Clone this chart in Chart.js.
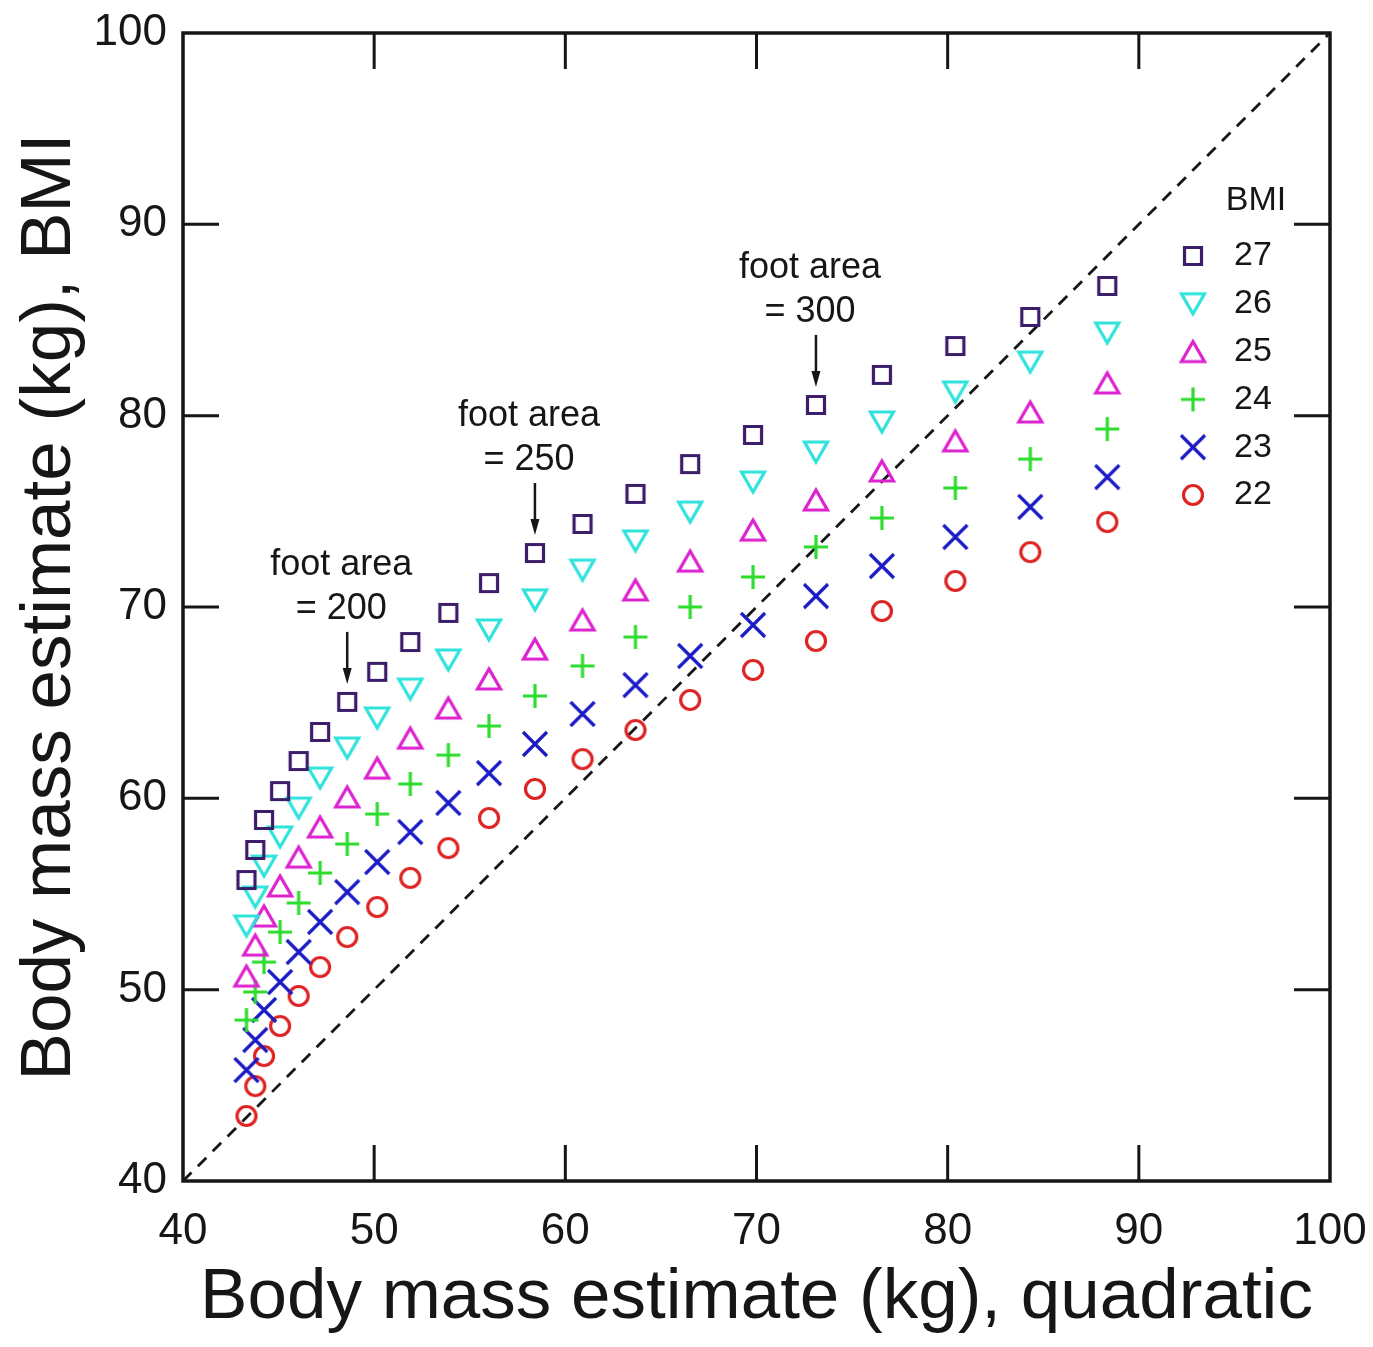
<!DOCTYPE html>
<html>
<head>
<meta charset="utf-8">
<title>Body mass estimates</title>
<script src="https://cdn.jsdelivr.net/npm/chart.js@4.4.1/dist/chart.umd.min.js"></script>
<style>
  html, body { margin: 0; padding: 0; background: #fff; }
  canvas { display: block; }
</style>
</head>
<body>
<canvas id="massChart" width="1373" height="1347"></canvas>
<script>
// Quadratic estimate (x) for each foot-area step, 140..340 in steps of 10
const footAreas = [140, 150, 160, 170, 180, 190, 200, 210, 220, 230, 240,
                   250, 260, 270, 280, 290, 300, 310, 320, 330, 340];
const quadMass = [43.32, 43.78, 44.24, 45.08, 46.05, 47.17, 48.59, 50.16, 51.89, 53.88, 56.01,
                  58.41, 60.90, 63.67, 66.53, 69.82, 73.11, 76.56, 80.40, 84.32, 88.35];

// BMI-based estimates (y), one list per BMI value
const bmi27 = [55.73, 57.30, 58.87, 60.38, 61.95, 63.47, 65.04, 66.61, 68.17, 69.69, 71.25,
               72.82, 74.34, 75.91, 77.47, 78.99, 80.56, 82.13, 83.64, 85.16, 86.78];
const bmi26 = [53.33, 54.84, 56.46, 57.98, 59.49, 61.06, 62.63, 64.20, 65.71, 67.23, 68.80,
               70.37, 71.93, 73.45, 74.96, 76.53, 78.10, 79.67, 81.24, 82.80, 84.32];
const bmi25 = [50.71, 52.33, 53.85, 55.42, 56.93, 58.50, 60.07, 61.58, 63.15, 64.72, 66.24,
               67.80, 69.32, 70.89, 72.40, 74.02, 75.59, 77.11, 78.68, 80.19, 81.71];
const bmi24 = [48.41, 49.88, 51.44, 53.01, 54.53, 56.10, 57.61, 59.18, 60.75, 62.26, 63.78,
               65.35, 66.92, 68.43, 70.00, 71.57, 73.14, 74.65, 76.22, 77.73, 79.30];
const bmi23 = [45.80, 47.37, 48.94, 50.40, 51.97, 53.54, 55.10, 56.67, 58.24, 59.76, 61.32,
               62.84, 64.41, 65.92, 67.44, 69.06, 70.57, 72.14, 73.66, 75.23, 76.79];
const bmi22 = [43.40, 44.96, 46.53, 48.10, 49.67, 51.18, 52.75, 54.32, 55.84, 57.40, 58.97,
               60.49, 62.05, 63.57, 65.14, 66.71, 68.22, 69.79, 71.36, 72.87, 74.44];

const axisTicks = [40, 50, 60, 70, 80, 90, 100];
const bmiLabels = ['27', '26', '25', '24', '23', '22'];
const labelledAreas = [200, 250, 300];

const FONT = '"Liberation Sans", Arial, Helvetica, sans-serif';
const INK = '#161616';

// ----- marker sprites (hollow symbols, centred on their bounding box) -----
function makeMarker(kind, color) {
  const c = document.createElement('canvas');
  c.width = 36; c.height = 36;
  const g = c.getContext('2d');
  g.strokeStyle = color;
  g.lineWidth = 3.2;
  g.lineJoin = 'miter';
  const m = 18;
  g.beginPath();
  if (kind === 'square') {
    g.rect(m - 8.5, m - 8.5, 17, 17);
  } else if (kind === 'circle') {
    g.arc(m, m, 9.5, 0, Math.PI * 2);
  } else if (kind === 'triUp') {
    g.moveTo(m, m - 10); g.lineTo(m + 11.5, m + 10); g.lineTo(m - 11.5, m + 10); g.closePath();
  } else if (kind === 'triDown') {
    g.moveTo(m, m + 10); g.lineTo(m + 11.5, m - 10); g.lineTo(m - 11.5, m - 10); g.closePath();
  } else if (kind === 'plus') {
    g.moveTo(m - 12, m); g.lineTo(m + 12, m);
    g.moveTo(m, m - 12); g.lineTo(m, m + 12);
  } else if (kind === 'cross') {
    g.moveTo(m - 12, m - 12); g.lineTo(m + 12, m + 12);
    g.moveTo(m + 12, m - 12); g.lineTo(m - 12, m + 12);
  }
  g.stroke();
  return c;
}

const series = [
  { label: bmiLabels[0], values: bmi27, marker: makeMarker('square', '#3b1d6a') },
  { label: bmiLabels[1], values: bmi26, marker: makeMarker('triDown', '#2fe3dc') },
  { label: bmiLabels[2], values: bmi25, marker: makeMarker('triUp', '#dd22cf') },
  { label: bmiLabels[3], values: bmi24, marker: makeMarker('plus', '#2edc2e') },
  { label: bmiLabels[4], values: bmi23, marker: makeMarker('cross', '#1b1bc6') },
  { label: bmiLabels[5], values: bmi22, marker: makeMarker('circle', '#dd2424') },
];

// ----- frame with inward ticks on all four sides -----
const framePlugin = {
  id: 'frame',
  afterDraw(chart) {
    const { ctx, chartArea: a, scales: { x, y } } = chart;
    const len = 36;
    ctx.save();
    ctx.strokeStyle = INK;
    ctx.lineWidth = 3;
    ctx.beginPath();
    axisTicks.slice(1, -1).forEach(v => {
      const px = x.getPixelForValue(v);
      const py = y.getPixelForValue(v);
      ctx.moveTo(px, a.bottom); ctx.lineTo(px, a.bottom - len);
      ctx.moveTo(px, a.top); ctx.lineTo(px, a.top + len);
      ctx.moveTo(a.left, py); ctx.lineTo(a.left + len, py);
      ctx.moveTo(a.right, py); ctx.lineTo(a.right - len, py);
    });
    ctx.stroke();
    ctx.lineWidth = 3.5;
    ctx.strokeRect(a.left, a.top, a.right - a.left, a.bottom - a.top);
    ctx.restore();
  }
};

// ----- "foot area = N" call-outs above the BMI 27 column -----
const calloutPlugin = {
  id: 'callouts',
  afterDraw(chart) {
    const { ctx, scales: { x, y } } = chart;
    ctx.save();
    ctx.fillStyle = INK;
    ctx.strokeStyle = INK;
    ctx.font = '36px ' + FONT;
    ctx.textAlign = 'center';
    ctx.textBaseline = 'middle';
    labelledAreas.forEach(area => {
      const i = footAreas.indexOf(area);
      const px = x.getPixelForValue(quadMass[i]);
      const py = y.getPixelForValue(bmi27[i]);
      ctx.fillText('foot area', px - 6, py - 137);
      ctx.fillText('= ' + area, px - 6, py - 93);
      ctx.lineWidth = 2.5;
      ctx.beginPath();
      ctx.moveTo(px, py - 70);
      ctx.lineTo(px, py - 30);
      ctx.stroke();
      ctx.beginPath();
      ctx.moveTo(px, py - 18);
      ctx.lineTo(px - 4.5, py - 34);
      ctx.lineTo(px + 4.5, py - 34);
      ctx.closePath();
      ctx.fill();
    });
    ctx.restore();
  }
};

// ----- BMI key inside the plot area -----
const keyPlugin = {
  id: 'bmiKey',
  afterDraw(chart) {
    const { ctx, chartArea: a } = chart;
    ctx.save();
    ctx.fillStyle = INK;
    ctx.font = '34px ' + FONT;
    ctx.textBaseline = 'middle';
    ctx.textAlign = 'center';
    ctx.fillText('BMI', a.right - 74, a.top + 168);
    ctx.textAlign = 'left';
    series.forEach((s, i) => {
      const ry = a.top + 223 + i * 47.8;
      const m = s.marker;
      ctx.drawImage(m, a.right - 137 - m.width / 2, ry - m.height / 2);
      ctx.fillText(s.label, a.right - 96, ry);
    });
    ctx.restore();
  }
};

const tickFont = { family: FONT, size: 44 };
const titleFont = { family: FONT, size: 71 };

new Chart(document.getElementById('massChart'), {
  type: 'scatter',
  data: {
    datasets: [
      {
        type: 'line',
        label: 'equal',
        data: [{ x: 40, y: 40 }, { x: 100, y: 100 }],
        borderColor: INK,
        borderWidth: 2.8,
        borderDash: [12, 9],
        pointRadius: 0,
        order: 10,
      },
      ...series.map(s => ({
        label: s.label,
        data: quadMass.map((q, i) => ({ x: q, y: s.values[i] })),
        pointStyle: s.marker,
        pointRadius: 12,
        showLine: false,
      })),
    ]
  },
  options: {
    responsive: false,
    animation: false,
    layout: { padding: { top: 33, right: 43, left: 0, bottom: 0 } },
    plugins: {
      legend: { display: false },
      tooltip: { enabled: false },
    },
    scales: {
      x: {
        type: 'linear',
        min: 40, max: 100,
        afterBuildTicks: (s) => { s.ticks = axisTicks.map(v => ({ value: v })); },
        afterFit: (s) => { s.height = 166; s.paddingLeft = 0; s.paddingRight = 0; },
        grid: { display: false, drawTicks: false },
        border: { display: false },
        ticks: { color: INK, font: tickFont, padding: 24, maxRotation: 0 },
        title: { display: true, text: 'Body mass estimate (kg), quadratic', color: INK, font: titleFont, padding: { top: 0, bottom: 6 } },
      },
      y: {
        type: 'linear',
        min: 40, max: 100,
        afterBuildTicks: (s) => { s.ticks = axisTicks.map(v => ({ value: v })); },
        afterFit: (s) => { s.width = 183; s.paddingTop = 0; s.paddingBottom = 0; },
        grid: { display: false, drawTicks: false },
        border: { display: false },
        ticks: { color: INK, font: tickFont, padding: 16 },
        title: { display: true, text: 'Body mass estimate (kg), BMI', color: INK, font: titleFont, padding: { top: 8, bottom: 0 } },
      }
    }
  },
  plugins: [framePlugin, calloutPlugin, keyPlugin]
});
</script>
</body>
</html>
